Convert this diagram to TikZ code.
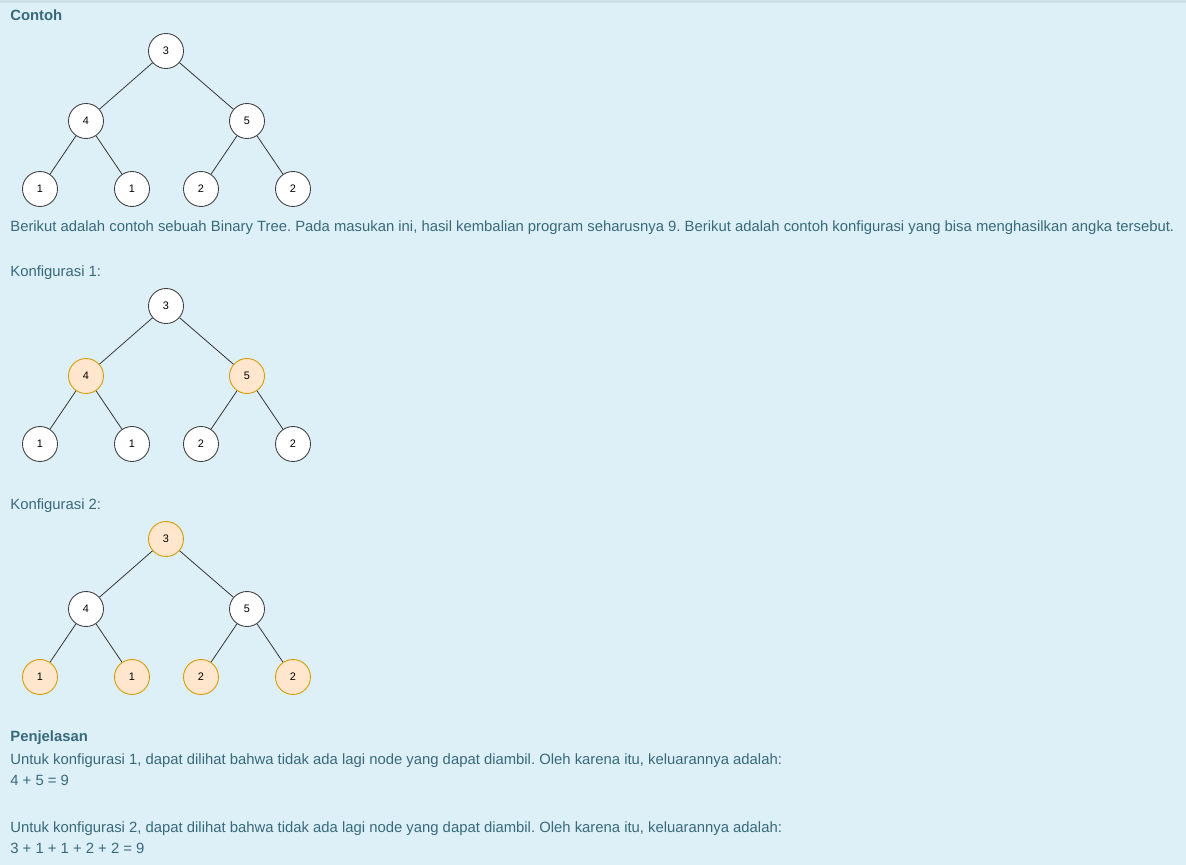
\documentclass[tikz,border=0pt]{standalone}
\usepackage{fontspec}
\setmainfont{Liberation Sans}
\usetikzlibrary{positioning}
\frenchspacing
\definecolor{panelbg}{HTML}{DEF0F7}
\definecolor{paneltop}{HTML}{CFE1E8}
\definecolor{infotext}{HTML}{37697B}
\definecolor{pickfill}{HTML}{FFE6CC}
\definecolor{pickline}{HTML}{D79B00}
\tikzset {
  % text lines of the panel
  line/.style = {
    anchor = base west,
    inner sep = 0,
    text = infotext,
    font = \fontsize{8.45}{10}\selectfont
  },
  heading/.style = {
    line,
    font = \fontsize{8.45}{10}\selectfont\bfseries
  },
  % tree node
  plain/.style = {
    draw = black!75,
    fill = white,
    circle,
    line width = 0.5pt,
    minimum size = 0.7cm,
    inner sep = 0,
    font = \fontsize{6.2}{7}\selectfont
  },
  % node taken in the configuration
  picked/.style = {
    plain,
    draw = pickline,
    fill = pickfill
  },
  edge/.style = {
    draw = black!80,
    line width = 0.45pt
  }
}

\begin{document}
\begin{tikzpicture}[x=0.02cm, y=-0.02cm]
  \fill[panelbg] (0,0) rectangle (1186,865);
  \fill[paneltop] (0,0) rectangle (1186,3);
  \useasboundingbox (0,0) rectangle (1186,865);

  \node[heading] (contoh) at (10,21) {Contoh};
  \node[line] (berikut) at (10,231) {Berikut adalah contoh sebuah Binary Tree. Pada masukan ini, hasil kembalian program seharusnya 9. Berikut adalah contoh konfigurasi yang bisa menghasilkan angka tersebut.};
  \node[line] (konf1) at (10,276) {Konfigurasi 1:};
  \node[line] (konf2) at (10,509) {Konfigurasi 2:};
  \node[heading] (penjelasan) at (10,741) {Penjelasan};
  \node[line] (untuk1) at (10,764) {Untuk konfigurasi 1, dapat dilihat bahwa tidak ada lagi node yang dapat diambil. Oleh karena itu, keluarannya adalah:};
  \node[line] (hasil1) at (10,785) {4 + 5 = 9};
  \node[line] (untuk2) at (10,832) {Untuk konfigurasi 2, dapat dilihat bahwa tidak ada lagi node yang dapat diambil. Oleh karena itu, keluarannya adalah:};
  \node[line] (hasil2) at (10,853) {3 + 1 + 1 + 2 + 2 = 9};

  % the same tree three times, with the picked levels
  \foreach \t/\y/\sa/\sb/\sc in {a/51/plain/plain/plain, b/306/plain/picked/plain, c/539/picked/plain/picked} {
    \node[\sa] (\t-root) at (166,\y) {3};
    \node[\sb] (\t-l) at (86,\y+70) {4};
    \node[\sb] (\t-r) at (247,\y+70) {5};
    \node[\sc] (\t-ll) at (40,\y+138) {1};
    \node[\sc] (\t-lr) at (132,\y+138) {1};
    \node[\sc] (\t-rl) at (201,\y+138) {2};
    \node[\sc] (\t-rr) at (293,\y+138) {2};

    \draw[edge] (\t-root) -- (\t-l);
    \draw[edge] (\t-root) -- (\t-r);
    \draw[edge] (\t-l) -- (\t-ll);
    \draw[edge] (\t-l) -- (\t-lr);
    \draw[edge] (\t-r) -- (\t-rl);
    \draw[edge] (\t-r) -- (\t-rr);
  }
\end{tikzpicture}
\end{document}
